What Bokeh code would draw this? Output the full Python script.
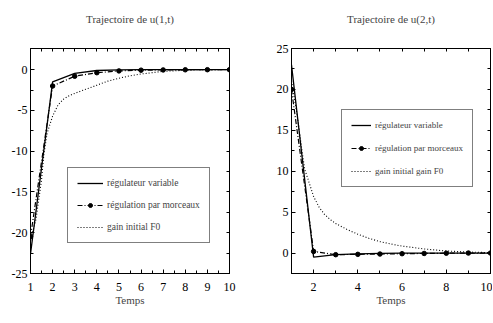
from bokeh.plotting import figure
from bokeh.models import LinearAxis, FixedTicker, Range1d, Legend, LegendItem
from bokeh.layouts import row
from bokeh.embed import file_html
from bokeh.resources import INLINE

# ---- data ----
t = [1, 2, 3, 4, 5, 6, 7, 8, 9, 10]
t_fine = [1, 1.25, 1.5, 1.6, 1.75, 2, 2.25, 2.5, 2.75, 3, 3.5, 4, 4.5, 5, 5.5, 6, 7, 8, 9, 10]

u1_variable = [-22.6, -1.5, -0.45, -0.1, -0.02, 0, 0, 0, 0, 0]
u1_morceaux = [-20.5, -2.0, -0.8, -0.37, -0.15, -0.06, -0.03, -0.01, 0, 0]
u1_gain = [-21, -18.3, -13.5, -10.5, -7.8, -5.7, -4.3, -3.6, -3.2, -2.9, -2.4, -1.9,
           -1.4, -1.05, -0.75, -0.53, -0.2, -0.07, -0.02, 0]

u2_variable = [23, -0.5, -0.2, -0.1, -0.05, 0, 0, 0, 0, 0]
u2_morceaux = [20, 0.2, -0.2, -0.16, -0.12, -0.08, -0.05, -0.02, 0, 0]
u2_gain = [21, 17, 12, 10.2, 9.0, 6.9, 5.6, 4.7, 4.1, 3.6, 2.9, 2.3,
           1.8, 1.4, 1.1, 0.85, 0.5, 0.25, 0.12, 0.05]

labels1 = ["régulateur variable", "régulation par morceaux", "gain initial F0"]
labels2 = ["régulateur variable", "régulation par morceaux", "gain initial gain F0"]
titles = ["Trajectoire de u(1,t)", "Trajectoire de u(2,t)"]
xlabel = "Temps"

x1_ticks = [1, 2, 3, 4, 5, 6, 7, 8, 9, 10]
y1_ticks = [-25, -20, -15, -10, -5, 0]
y1_tick_labels = ["-25", "-20", "-15", "-10", "-5", "0"]
x2_ticks = [2, 4, 6, 8, 10]
y2_ticks = [0, 5, 10, 15, 20, 25]

FONT = "Liberation Serif"


def style_axis(ax, ticks, minor, overrides=None):
    ax.ticker = FixedTicker(ticks=ticks, minor_ticks=minor)
    if overrides:
        ax.major_label_overrides = overrides
    ax.major_tick_in = 4
    ax.major_tick_out = 0
    ax.minor_tick_in = 3
    ax.minor_tick_out = 0
    ax.axis_line_color = "black"
    ax.major_tick_line_color = "black"
    ax.minor_tick_line_color = "black"
    ax.major_label_text_font = FONT
    ax.major_label_text_font_size = "12px"
    ax.major_label_text_color = "black"
    ax.major_label_standoff = 3


def style_mirror(ax, minor):
    # mirror axis: tick marks only, no tick labels
    ax.ticker = FixedTicker(ticks=[], minor_ticks=minor)
    ax.minor_tick_in = 3
    ax.minor_tick_out = 0
    ax.major_tick_in = 0
    ax.major_tick_out = 0
    ax.axis_line_color = "black"
    ax.minor_tick_line_color = "black"
    ax.major_label_standoff = 0


def make(title, yr, xticks, xminor, yticks, yminor, ylabels, ya, yb, yc, labels,
         width, bl, br, legend_loc, label_width, glyph_w, spacing, font_size):
    p = figure(width=width, height=315, output_backend="svg", toolbar_location=None,
               x_range=Range1d(1, 10), y_range=Range1d(*yr),
               min_border_left=bl, min_border_right=br, min_border_top=48,
               min_border_bottom=42)
    p.grid.visible = False
    p.outline_line_color = "black"
    p.background_fill_color = "white"
    p.border_fill_color = "white"

    style_axis(p.xaxis[0], xticks, xminor)
    ov = dict(zip(yticks, ylabels)) if ylabels else None
    style_axis(p.yaxis[0], yticks, yminor, ov)
    p.xaxis[0].major_label_standoff = 9
    p.xaxis[0].axis_label = xlabel
    p.xaxis[0].axis_label_text_font = FONT
    p.xaxis[0].axis_label_text_font_size = "11px"
    p.xaxis[0].axis_label_text_font_style = "normal"
    p.xaxis[0].axis_label_standoff = 0

    top = LinearAxis()
    style_mirror(top, xminor)
    top.axis_label = title
    top.axis_label_text_font = FONT
    top.axis_label_text_font_size = "11px"
    top.axis_label_text_font_style = "normal"
    top.axis_label_standoff = 24
    p.add_layout(top, "above")
    right = LinearAxis()
    style_mirror(right, yminor)
    p.add_layout(right, "right")

    r1 = p.line(t, ya, line_color="black", line_width=1.3)
    r2 = p.line(t, yb, line_color="black", line_width=1.2, line_dash="5 2 1 2")
    r2m = p.scatter(t, yb, size=4.5, color="black")
    r3 = p.line(t_fine, yc, line_color="black", line_width=1.1, line_dash="1 2")

    legend = Legend(items=[LegendItem(label=labels[0], renderers=[r1]),
                           LegendItem(label=labels[1], renderers=[r2, r2m]),
                           LegendItem(label=labels[2], renderers=[r3])],
                    location=legend_loc)
    legend.label_text_font = FONT
    legend.label_text_font_size = font_size
    legend.border_line_color = "black"
    legend.border_line_width = 1
    legend.background_fill_alpha = 1
    legend.glyph_width = glyph_w
    legend.glyph_height = 10
    legend.label_height = 12
    legend.label_standoff = 4
    legend.label_width = label_width
    legend.spacing = spacing
    legend.padding = 9
    legend.margin = 0
    p.add_layout(legend, "center")
    return p


p1 = make(titles[0], (-25, 2.6), x1_ticks, [1 + 0.5 * i for i in range(19)],
          y1_ticks, [-25 + 2.5 * i for i in range(11)], y1_tick_labels,
          u1_variable, u1_morceaux, u1_gain, labels1, 258, 30, 29, (37, 30), 90,
          26, 10, "9.5px")
p2 = make(titles[1], (-2.5, 25), x2_ticks, list(range(1, 11)),
          y2_ticks, [-2.5 + 2.5 * i for i in range(12)], None,
          u2_variable, u2_morceaux, u2_gain, labels2, 234, 33, 2, (50, 86), 70,
          20, 11, "9px")

layout = row(p1, p2)
open("out.html", "w").write(file_html(layout, INLINE))
